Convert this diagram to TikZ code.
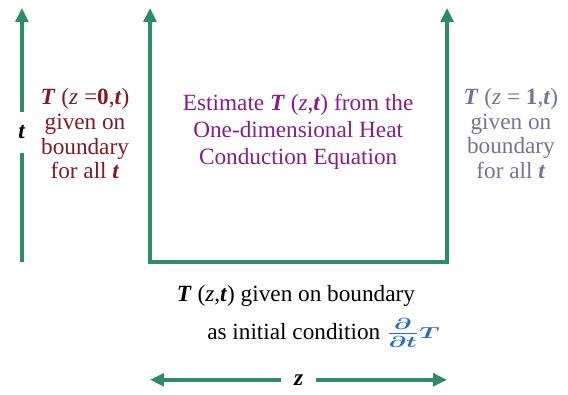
\documentclass[tikz,border=0pt]{standalone}
\usepackage{fontspec}
\setmainfont{Liberation Serif}
\usetikzlibrary{arrows.meta}
\definecolor{axisgreen}{RGB}{46,140,100}
\definecolor{leftred}{RGB}{130,25,35}
\definecolor{midpurple}{RGB}{135,30,135}
\definecolor{rightgray}{RGB}{115,115,150}
\definecolor{dtblue}{RGB}{40,110,190}
\newcommand{\bfit}[1]{\textbf{\textit{#1}}}

\begin{document}
\begin{tikzpicture}[>={Triangle[length=10.5pt,width=9.5pt]},
  axis/.style={draw=axisgreen,line width=2.7pt},
  side/.style={align=center,font=\fontsize{17.5}{18.5}\selectfont},
  gap/.style={fill=white,inner sep=0pt}]
\useasboundingbox (0,0) rectangle (15.03,10.45);
% ends of the axes
\coordinate (tbot) at (0.58,3.52);
\coordinate (ttop) at (0.58,10.24);
\coordinate (ul) at (3.97,10.24);
\coordinate (bl) at (3.97,3.52);
\coordinate (br) at (11.83,3.52);
\coordinate (ur) at (11.83,10.24);
\coordinate (zl) at (3.97,0.40);
\coordinate (zr) at (11.83,0.40);
\draw[axis,->] (tbot) -- (ttop) node[pos=0.51,gap,minimum height=31pt,side] (tlab) {\bfit{t}};
\draw[axis,<->] (ul) -- (bl) -- (br) -- (ur);
\draw[axis,<->] (zl) -- (zr) node[midway,gap,minimum width=27pt,side] (zlab) {\bfit{z}};
\node[side,text=leftred] (left) at (2.25,6.91) {\bfit{T} (\textit{z} =\textbf{0},\bfit{t})\\given on\\boundary\\for all \bfit{t}};
\node[side,text=midpurple,font=\fontsize{17.5}{20.5}\selectfont] (heat) at (7.89,6.96) {Estimate \bfit{T} (\textit{z},\bfit{t}) from the\\One-dimensional Heat\\Conduction Equation};
\node[side,text=rightgray] (right) at (13.52,6.92) {\bfit{T} (\textit{z} = \textbf{1},\bfit{t})\\given on\\boundary\\for all \bfit{t}};
\node[side] (init) at (7.83,2.61) {\bfit{T} (\textit{z},\bfit{t}) given on boundary};
\node[side,anchor=west] (cond) at (5.36,1.64) {as initial condition \textcolor{dtblue}{\scalebox{1.6}[1]{\boldmath$\frac{\partial}{\partial t}\vcenter{\hbox{$\scriptstyle T$}}$}}};
\end{tikzpicture}
\end{document}
